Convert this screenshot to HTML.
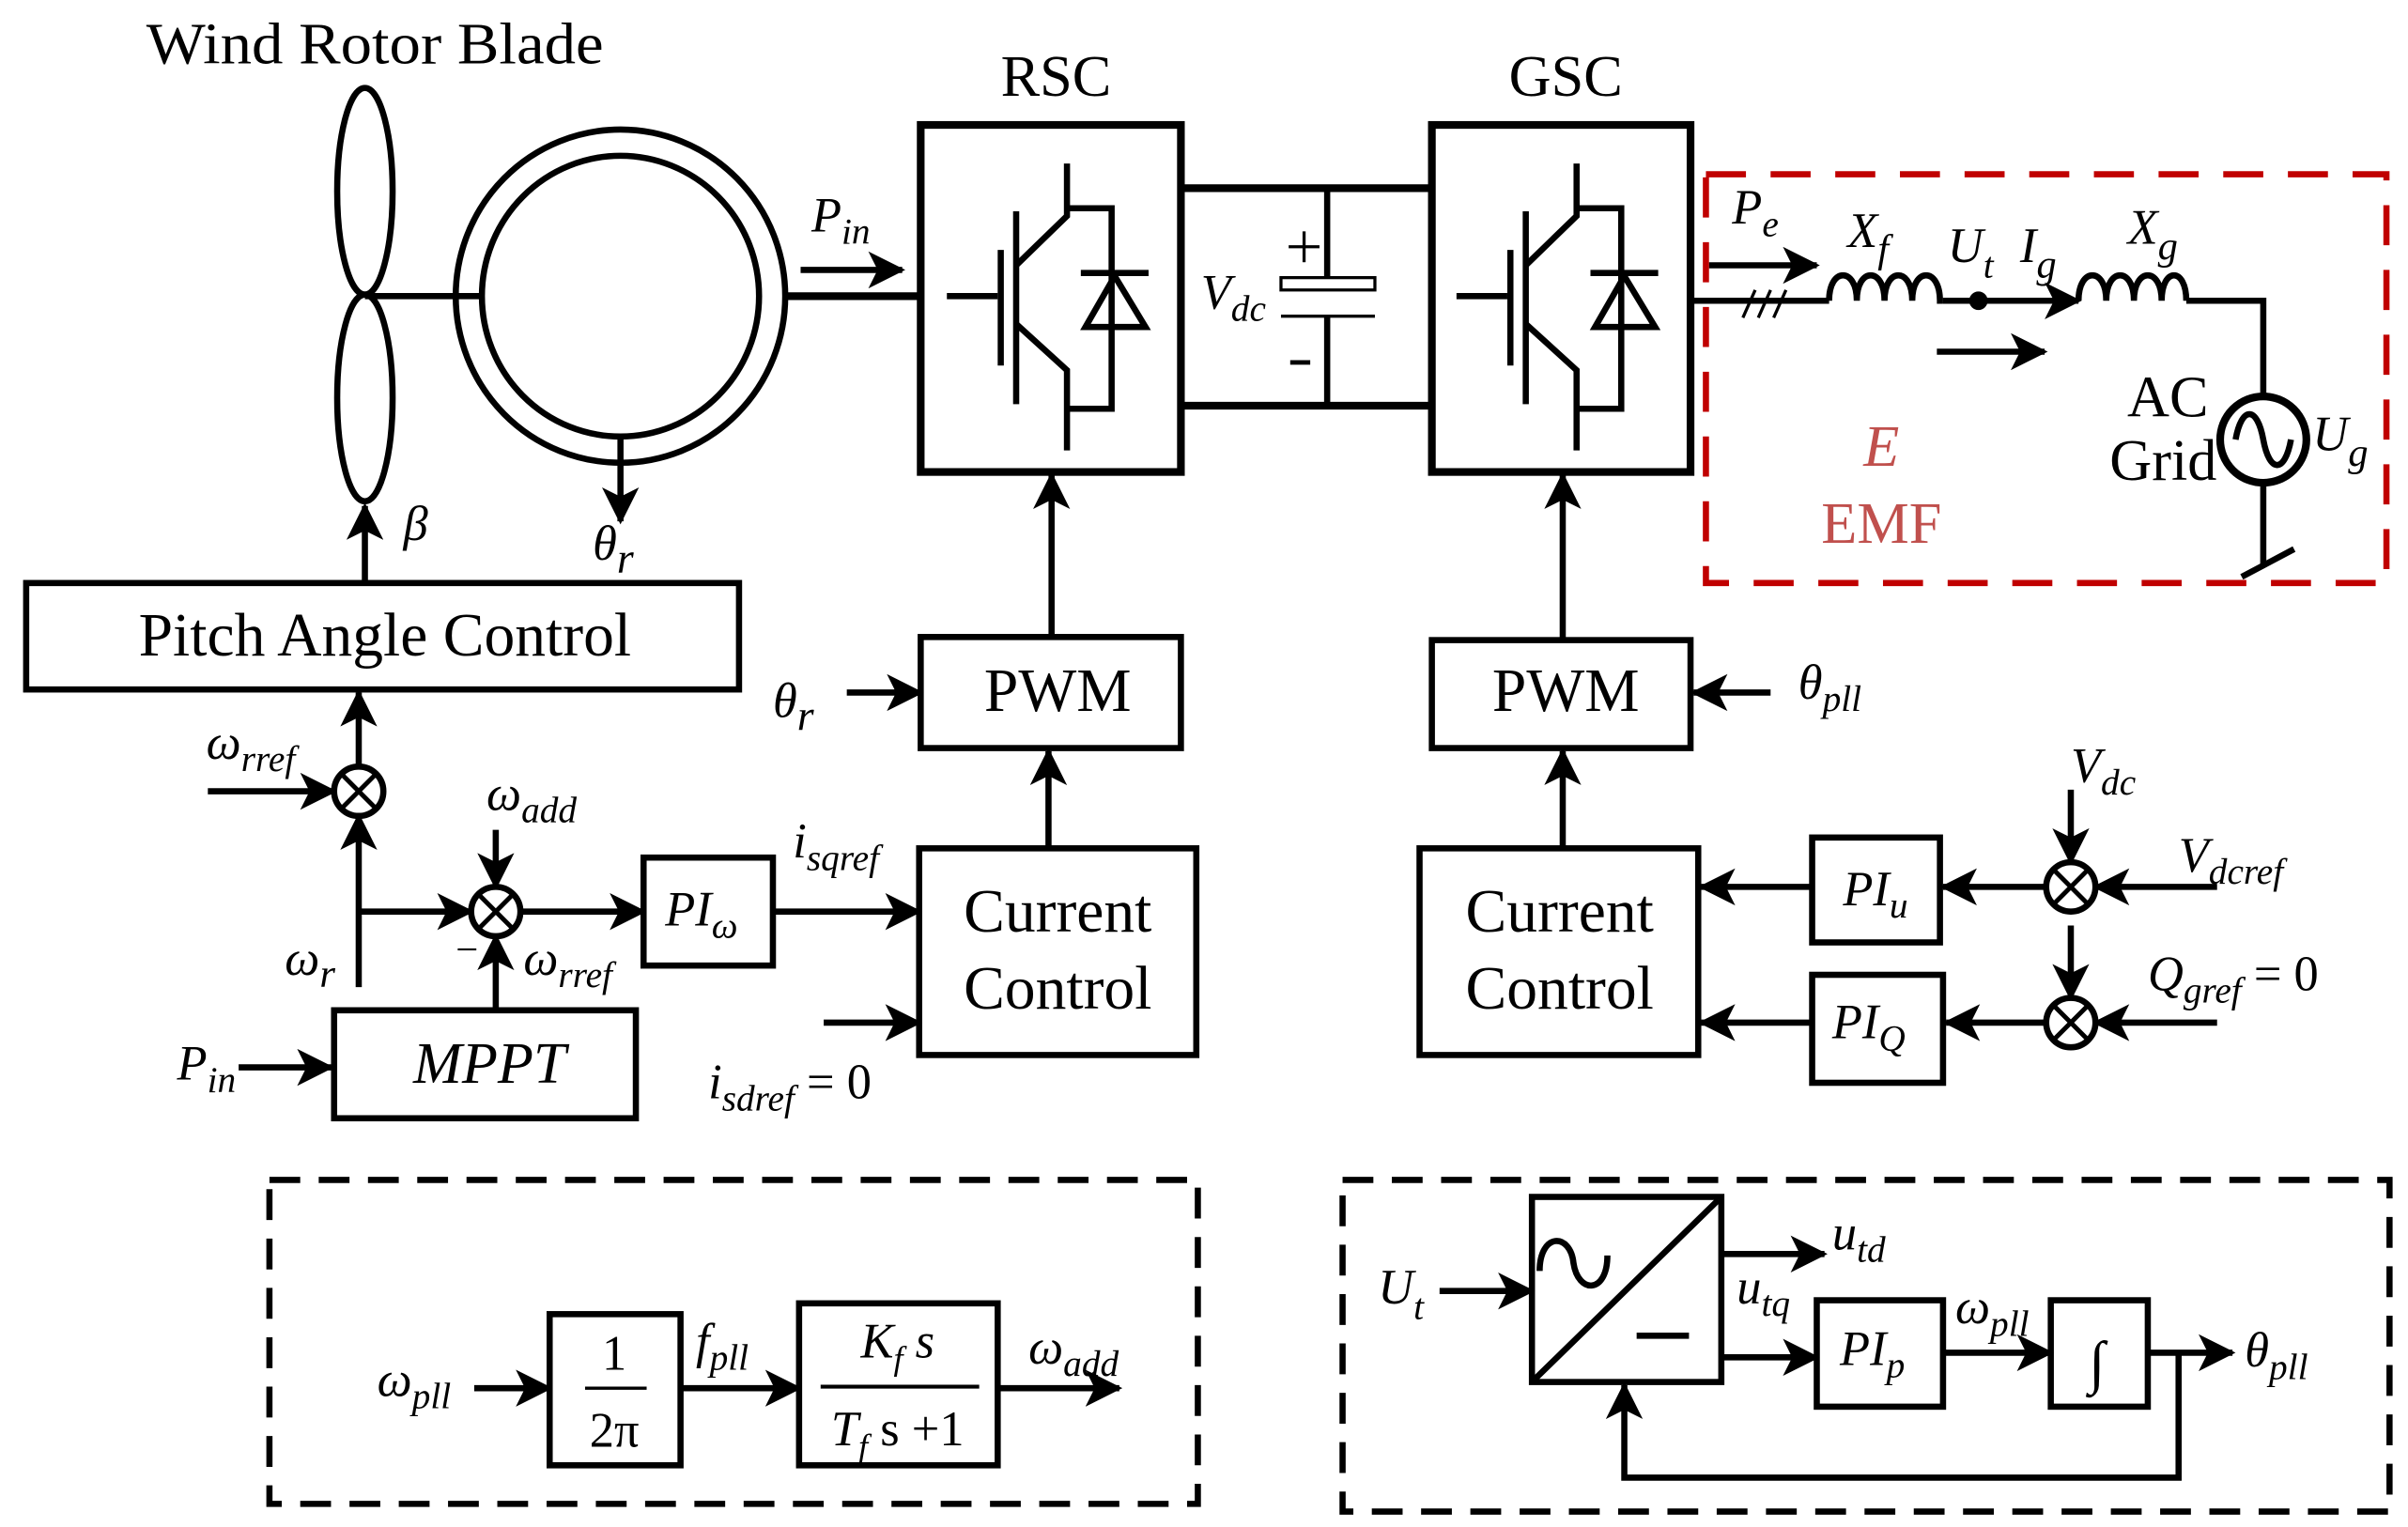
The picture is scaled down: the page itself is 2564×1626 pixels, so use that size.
<!DOCTYPE html>
<html><head><meta charset="utf-8"><style>html,body{margin:0;padding:0;background:#fff}svg{display:block}</style></head>
<body>
<svg width="2564" height="1626" viewBox="0 0 1564 990" preserveAspectRatio="none" xmlns="http://www.w3.org/2000/svg" font-family="Liberation Serif, serif">
<defs>
<marker id="a" markerUnits="userSpaceOnUse" markerWidth="26" markerHeight="24" refX="22" refY="12" orient="auto"><path d="M0,0 L24,12 L0,24 L6,12 Z" fill="#000"/></marker>
</defs>
<g fill="none" stroke="#000" stroke-width="4">
<ellipse cx="237" cy="124" rx="18" ry="67"/>
<ellipse cx="237" cy="258" rx="18" ry="67"/>
<line x1="237" y1="192" x2="313" y2="192"/>
<ellipse cx="403" cy="192" rx="107" ry="108"/>
<ellipse cx="403" cy="192" rx="90" ry="91"/>
<line x1="403" y1="283" x2="403" y2="338" marker-end="url(#a)"/>
<line x1="510" y1="192" x2="598" y2="192" stroke-width="5"/>
<line x1="520" y1="175" x2="586" y2="175" marker-end="url(#a)"/>
<rect x="598" y="81" width="169" height="225" stroke-width="5"/>
<g id="igbt">
<line x1="615" y1="192" x2="648" y2="192"/>
<line x1="650" y1="162" x2="650" y2="237"/>
<line x1="660" y1="137" x2="660" y2="262"/>
<polyline points="660,172 693,140 693,106"/>
<polyline points="693,135 722,135 722,265 693,265"/>
<polyline points="660,210 693,240 693,292"/>
<line x1="702" y1="177" x2="746" y2="177"/>
<polygon points="724,179 705,212 744,212"/>
</g>
<line x1="767" y1="122" x2="930" y2="122" stroke-width="5"/>
<line x1="767" y1="263" x2="930" y2="263" stroke-width="5"/>
<line x1="862" y1="122" x2="862" y2="180"/>
<line x1="862" y1="205" x2="862" y2="263"/>
<rect x="832" y="180" width="61" height="8" stroke-width="2"/>
<line x1="832" y1="205" x2="893" y2="205" stroke-width="2"/>
<line x1="847" y1="150" x2="847" y2="170" stroke-width="2"/>
<line x1="837" y1="160" x2="857" y2="160" stroke-width="2"/>
<line x1="838" y1="235" x2="851" y2="235" stroke-width="3"/>
<rect x="930" y="81" width="168" height="225" stroke-width="5"/>
<use href="#igbt" x="331"/>
<line x1="1098" y1="195" x2="1188" y2="195"/>
<line x1="1132" y1="206" x2="1140" y2="188" stroke-width="2"/>
<line x1="1142" y1="206" x2="1150" y2="188" stroke-width="2"/>
<line x1="1152" y1="206" x2="1160" y2="188" stroke-width="2"/>
<line x1="1110" y1="172" x2="1180" y2="172" marker-end="url(#a)"/>
<path d="M1188,195 c0,-22 18,-22 18,0 c0,-22 18,-22 18,0 c0,-22 18,-22 18,0 c0,-22 18,-22 18,0 h2"/>
<line x1="1262" y1="195" x2="1350" y2="195" marker-end="url(#a)"/>
<circle cx="1285" cy="195" r="4" fill="#000"/>
<path d="M1350,195 c0,-22 18,-22 18,0 c0,-22 18,-22 18,0 c0,-22 18,-22 18,0 c0,-22 16,-22 16,0"/>
<polyline points="1420,195 1470,195 1470,257"/>
<circle cx="1470" cy="285" r="28" stroke-width="5"/>
<path d="M1452,285 c4,-22 14,-22 18,0 c4,22 14,22 18,0" stroke-width="4"/>
<line x1="1470" y1="313" x2="1470" y2="366"/>
<line x1="1456" y1="374" x2="1490" y2="356" stroke-width="4"/>
<line x1="1258" y1="228" x2="1328" y2="228" marker-end="url(#a)"/>
<rect x="1108" y="113" width="442" height="265" stroke="#c00000" stroke-dasharray="26 16"/>
<rect x="17" y="378" width="463" height="69"/>
<line x1="237" y1="378" x2="237" y2="328" marker-end="url(#a)"/>
<circle cx="233" cy="513" r="16"/>
<line x1="222" y1="502" x2="244" y2="524" stroke-width="3"/>
<line x1="244" y1="502" x2="222" y2="524" stroke-width="3"/>
<line x1="233" y1="497" x2="233" y2="449" marker-end="url(#a)"/>
<line x1="135" y1="513" x2="217" y2="513" marker-end="url(#a)"/>
<line x1="233" y1="640" x2="233" y2="529" marker-end="url(#a)"/>
<line x1="233" y1="591" x2="306" y2="591" marker-end="url(#a)"/>
<circle cx="322" cy="591" r="16"/>
<line x1="311" y1="580" x2="333" y2="602" stroke-width="3"/>
<line x1="333" y1="580" x2="311" y2="602" stroke-width="3"/>
<line x1="322" y1="538" x2="322" y2="575" marker-end="url(#a)"/>
<rect x="217" y="655" width="196" height="70"/>
<line x1="322" y1="655" x2="322" y2="607" marker-end="url(#a)"/>
<line x1="155" y1="692" x2="215" y2="692" marker-end="url(#a)"/>
<line x1="338" y1="591" x2="418" y2="591" marker-end="url(#a)"/>
<rect x="418" y="556" width="84" height="70"/>
<line x1="502" y1="591" x2="597" y2="591" marker-end="url(#a)"/>
<rect x="597" y="550" width="180" height="134"/>
<line x1="535" y1="663" x2="597" y2="663" marker-end="url(#a)"/>
<line x1="681" y1="550" x2="681" y2="487" marker-end="url(#a)"/>
<rect x="598" y="413" width="169" height="72"/>
<line x1="550" y1="449" x2="598" y2="449" marker-end="url(#a)"/>
<line x1="683" y1="413" x2="683" y2="308" marker-end="url(#a)"/>
<rect x="930" y="415" width="168" height="70"/>
<line x1="1150" y1="449" x2="1100" y2="449" marker-end="url(#a)"/>
<line x1="1015" y1="415" x2="1015" y2="308" marker-end="url(#a)"/>
<rect x="922" y="550" width="181" height="134"/>
<line x1="1015" y1="550" x2="1015" y2="487" marker-end="url(#a)"/>
<rect x="1177" y="543" width="83" height="68"/>
<rect x="1177" y="632" width="85" height="70"/>
<circle cx="1345" cy="575" r="16"/>
<line x1="1334" y1="564" x2="1356" y2="586" stroke-width="3"/>
<line x1="1356" y1="564" x2="1334" y2="586" stroke-width="3"/>
<circle cx="1345" cy="663" r="16"/>
<line x1="1334" y1="652" x2="1356" y2="674" stroke-width="3"/>
<line x1="1356" y1="652" x2="1334" y2="674" stroke-width="3"/>
<line x1="1345" y1="512" x2="1345" y2="559" marker-end="url(#a)"/>
<line x1="1440" y1="575" x2="1361" y2="575" marker-end="url(#a)"/>
<line x1="1329" y1="575" x2="1262" y2="575" marker-end="url(#a)"/>
<line x1="1177" y1="575" x2="1105" y2="575" marker-end="url(#a)"/>
<line x1="1345" y1="600" x2="1345" y2="647" marker-end="url(#a)"/>
<line x1="1440" y1="663" x2="1361" y2="663" marker-end="url(#a)"/>
<line x1="1329" y1="663" x2="1264" y2="663" marker-end="url(#a)"/>
<line x1="1177" y1="663" x2="1105" y2="663" marker-end="url(#a)"/>
<rect x="175" y="765" width="603" height="210" stroke-dasharray="20 12"/>
<rect x="357" y="852" width="85" height="98"/>
<line x1="308" y1="900" x2="357" y2="900" marker-end="url(#a)"/>
<line x1="380" y1="900" x2="420" y2="900" stroke-width="2"/>
<line x1="442" y1="900" x2="519" y2="900" marker-end="url(#a)"/>
<rect x="519" y="845" width="129" height="105"/>
<line x1="533" y1="899" x2="636" y2="899" stroke-width="2.5"/>
<line x1="648" y1="900" x2="727" y2="900" marker-end="url(#a)"/>
<rect x="872" y="765" width="680" height="215" stroke-dasharray="20 12"/>
<rect x="995" y="776" width="123" height="120"/>
<line x1="997" y1="894" x2="1116" y2="778"/>
<path d="M1000,824 c0,-25 20,-25 22,-5 c3,20 22,20 22,-5" stroke-width="4"/>
<line x1="1063" y1="866" x2="1097" y2="866" stroke-width="4"/>
<line x1="935" y1="837" x2="995" y2="837" marker-end="url(#a)"/>
<line x1="1118" y1="813" x2="1185" y2="813" marker-end="url(#a)"/>
<line x1="1118" y1="880" x2="1180" y2="880" marker-end="url(#a)"/>
<rect x="1180" y="843" width="82" height="69"/>
<line x1="1262" y1="877" x2="1332" y2="877" marker-end="url(#a)"/>
<rect x="1332" y="843" width="63" height="69"/>
<line x1="1395" y1="877" x2="1450" y2="877" marker-end="url(#a)"/>
<polyline points="1415,877 1415,958 1055,958 1055,898" marker-end="url(#a)"/>
</g>
<g fill="#000" font-size="36">
<text x="95" y="41" font-size="38" textLength="297" lengthAdjust="spacingAndGlyphs">Wind Rotor Blade</text>
<text x="650" y="62" font-size="38">RSC</text>
<text x="980" y="62" font-size="38">GSC</text>
<text x="250" y="425" text-anchor="middle" font-size="40">Pitch Angle Control</text>
<text x="687" y="461" text-anchor="middle" font-size="40">PWM</text>
<text x="1017" y="461" text-anchor="middle" font-size="40">PWM</text>
<text x="687" y="604" text-anchor="middle" font-size="40">Current</text>
<text x="687" y="654" text-anchor="middle" font-size="40">Control</text>
<text x="1013" y="604" text-anchor="middle" font-size="40">Current</text>
<text x="1013" y="654" text-anchor="middle" font-size="40">Control</text>
<text x="1408" y="270" text-anchor="middle" font-size="38">AC</text>
<text x="1405" y="311" text-anchor="middle" font-size="38">Grid</text>
<text x="1222" y="302" text-anchor="middle" font-size="38" fill="#c0504d" font-style="italic">E</text>
<text x="1222" y="352" text-anchor="middle" font-size="38" fill="#c0504d">EMF</text>
<text x="318" y="702" text-anchor="middle" font-style="italic" font-size="38">MPPT</text>
<text x="399" y="888" text-anchor="middle" font-size="32">1</text>
<text x="399" y="938" text-anchor="middle" font-size="32">2π</text>
<text x="583" y="880" text-anchor="middle" font-size="32" font-style="italic">K<tspan dy="8" font-size="22">f</tspan><tspan dy="-8"> s</tspan></text>
<text x="583" y="937" text-anchor="middle" font-size="32" font-style="italic">T<tspan dy="8" font-size="22">f</tspan><tspan dy="-8" font-style="normal"> s +1</tspan></text>
<text x="1362" y="896" text-anchor="middle" font-size="38" font-style="italic">∫</text>
</g>
<g fill="#000" font-style="italic" font-size="32">
<text x="527" y="150">P<tspan dy="8" font-size="24">in</tspan></text>
<text x="385" y="363">θ<tspan dy="8" font-size="28">r</tspan></text>
<text x="262" y="350">β</text>
<text x="780" y="200">V<tspan dy="8" font-size="24">dc</tspan></text>
<text x="1125" y="145">P<tspan dy="8" font-size="24">e</tspan></text>
<text x="1200" y="160">X<tspan dy="10" font-size="26">f</tspan></text>
<text x="1265" y="170">U<tspan dy="10" font-size="24">t</tspan></text>
<text x="1312" y="170">I<tspan dy="10" font-size="26">g</tspan></text>
<text x="1382" y="158">X<tspan dy="10" font-size="26">g</tspan></text>
<text x="1502" y="292">U<tspan dy="10" font-size="26">g</tspan></text>
<text x="502" y="465">θ<tspan dy="8" font-size="28">r</tspan></text>
<text x="1168" y="453">θ<tspan dy="8" font-size="24">pll</tspan></text>
<text x="134" y="492">ω<tspan dy="8" font-size="24">rref</tspan></text>
<text x="316" y="525">ω<tspan dy="8" font-size="24">add</tspan></text>
<text x="185" y="632">ω<tspan dy="8" font-size="26">r</tspan></text>
<text x="340" y="632">ω<tspan dy="8" font-size="24">rref</tspan></text>
<text x="296" y="624" font-style="normal" font-size="26">−</text>
<text x="115" y="700">P<tspan dy="8" font-size="24">in</tspan></text>
<text x="432" y="600">PI<tspan dy="8" font-size="24">ω</tspan></text>
<text x="515" y="556">i<tspan dy="8" font-size="24">sqref</tspan></text>
<text x="460" y="712">i<tspan dy="8" font-size="24">sdref</tspan><tspan dy="-8" font-style="normal"> = 0</tspan></text>
<text x="1197" y="587">PI<tspan dy="8" font-size="24">u</tspan></text>
<text x="1190" y="673">PI<tspan dy="8" font-size="24">Q</tspan></text>
<text x="1345" y="507">V<tspan dy="8" font-size="24">dc</tspan></text>
<text x="1415" y="565">V<tspan dy="8" font-size="24">dcref</tspan></text>
<text x="1395" y="642">Q<tspan dy="8" font-size="24">gref</tspan><tspan dy="-8" font-style="normal"> = 0</tspan></text>
<text x="245" y="905">ω<tspan dy="8" font-size="24">pll</tspan></text>
<text x="452" y="880">f<tspan dy="8" font-size="24">pll</tspan></text>
<text x="668" y="884">ω<tspan dy="8" font-size="24">add</tspan></text>
<text x="895" y="845">U<tspan dy="10" font-size="24">t</tspan></text>
<text x="1190" y="810">u<tspan dy="8" font-size="24">td</tspan></text>
<text x="1128" y="845">u<tspan dy="8" font-size="24">tq</tspan></text>
<text x="1195" y="885">PI<tspan dy="8" font-size="24">p</tspan></text>
<text x="1270" y="858">ω<tspan dy="8" font-size="24">pll</tspan></text>
<text x="1458" y="886">θ<tspan dy="8" font-size="24">pll</tspan></text>
</g>
</svg>
</body></html>
